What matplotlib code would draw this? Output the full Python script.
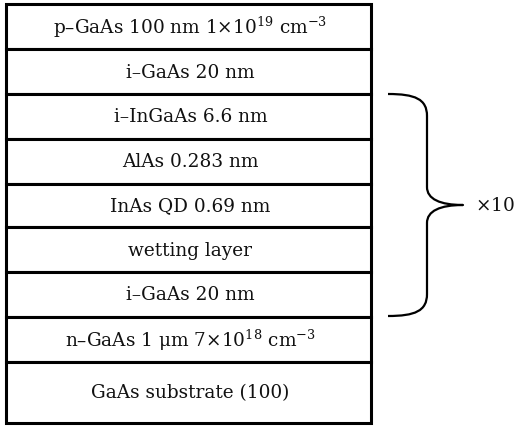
import matplotlib
matplotlib.use("Agg")
import matplotlib.pyplot as plt
from matplotlib.path import Path
from matplotlib.patches import PathPatch, Rectangle

plt.rcParams['font.family'] = ['DejaVu Serif']
plt.rcParams['mathtext.fontset'] = 'dejavuserif'

# Layer labels, top to bottom
layer_labels = [
    "p–GaAs 100 nm 1$\\times$10$^{19}$ cm$^{-3}$",
    "i–GaAs 20 nm",
    "i–InGaAs 6.6 nm",
    "AlAs 0.283 nm",
    "InAs QD 0.69 nm",
    "wetting layer",
    "i–GaAs 20 nm",
    "n–GaAs 1 μm 7$\\times$10$^{18}$ cm$^{-3}$",
    "GaAs substrate (100)",
]
repeat_label = "$\\times$10"
repeat_first, repeat_last = 2, 6  # indices of repeated layers

# layout (pixels)
W, H = 518, 427
left, right = 6, 371
layer_edges = [5, 50, 95, 140, 185, 228, 273, 318, 363, 424]

fig = plt.figure(figsize=(W / 100, H / 100), dpi=100)
fig.patch.set_facecolor('white')
ax = fig.add_axes([0, 0, 1, 1])
ax.set_xlim(0, W)
ax.set_ylim(H, 0)
ax.axis('off')

lw = 2.2
fs = 13.3
for i, lab in enumerate(layer_labels):
    y0, y1 = layer_edges[i], layer_edges[i + 1]
    ax.add_patch(Rectangle((left, y0), right - left, y1 - y0, facecolor='white',
                           edgecolor='black', linewidth=lw))
    ax.text((left + right) / 2 + 2, (y0 + y1) / 2, lab, ha='center', va='center',
            fontsize=fs, color='#111111')

# brace
ytop = layer_edges[repeat_first]
ybot = layer_edges[repeat_last + 1] - 1
ymid = (ytop + ybot) / 2
xa, xs, xt = 388, 427, 463
verts = [
    (xa, ytop), (415, ytop), (xs, ytop + 5), (xs, ytop + 22),
    (xs, ymid - 18),
    (xs, ymid - 6), (440, ymid), (xt, ymid),
    (440, ymid), (xs, ymid + 6), (xs, ymid + 18),
    (xs, ybot - 22),
    (xs, ybot - 5), (415, ybot), (xa, ybot),
]
codes = [Path.MOVETO, Path.CURVE4, Path.CURVE4, Path.CURVE4,
         Path.LINETO,
         Path.CURVE4, Path.CURVE4, Path.CURVE4,
         Path.CURVE4, Path.CURVE4, Path.CURVE4,
         Path.LINETO,
         Path.CURVE4, Path.CURVE4, Path.CURVE4]
ax.add_patch(PathPatch(Path(verts, codes), facecolor='none', edgecolor='black',
                       linewidth=1.6, capstyle='butt', joinstyle='round'))
ax.text(475, ymid, repeat_label, ha='left', va='center', fontsize=fs, color='#111111')

fig.savefig("out.png", dpi=100, facecolor='white')
